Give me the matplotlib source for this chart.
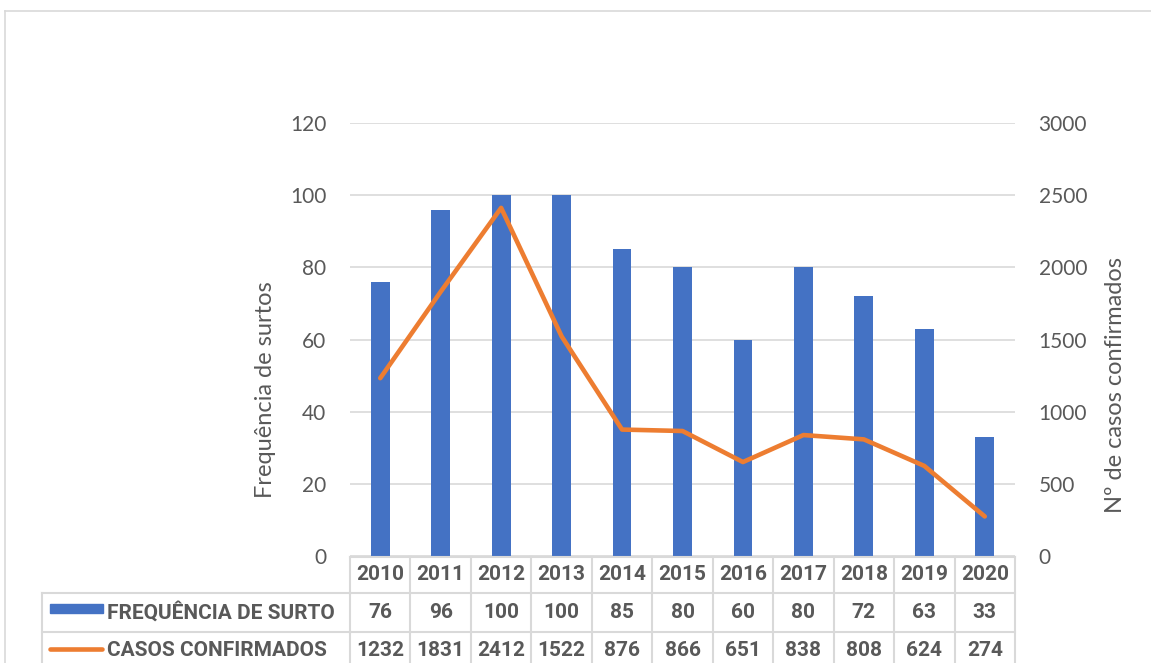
import matplotlib
matplotlib.use("Agg")
import matplotlib.pyplot as plt
from matplotlib.transforms import blended_transform_factory
from matplotlib.lines import Line2D
from matplotlib.patches import Rectangle

years = ["2010", "2011", "2012", "2013", "2014", "2015", "2016", "2017", "2018", "2019", "2020"]
surtos = [76, 96, 100, 100, 85, 80, 60, 80, 72, 63, 33]
casos = [1232, 1831, 2412, 1522, 876, 866, 651, 838, 808, 624, 274]
left_ticks = [0, 20, 40, 60, 80, 100, 120]
right_ticks = [0, 500, 1000, 1500, 2000, 2500, 3000]
row_labels = ["FREQUÊNCIA DE SURTO", "CASOS CONFIRMADOS"]
left_title = "Frequência de surtos"
right_title = "Nº de casos confirmados"

BLUE = "#4472C4"
ORANGE = "#ED7D31"
GRID = "#D9D9D9"
TXT = "#595959"
FONT = ["Lato", "DejaVu Sans"]
TFONT = ["Roboto", "DejaVu Sans"]
plt.rcParams["font.family"] = FONT

W, H = 1151, 663
fig = plt.figure(figsize=(W / 100, H / 100), dpi=100)

def fx(p):
    return p / W

def fy(p):
    return 1 - p / H

# chart border
fig.add_artist(Line2D([fx(4.5), fx(4.5)], [fy(10.5), 0], color=GRID, lw=1.2, transform=fig.transFigure))
fig.add_artist(Line2D([fx(4.5), 1], [fy(10.5), fy(10.5)], color=GRID, lw=1.2, transform=fig.transFigure))

x0, x1, ytop, ybot = 350, 1015, 123, 556
ax = fig.add_axes([fx(x0), fy(ybot), fx(x1) - fx(x0), fy(ytop) - fy(ybot)])
ax2 = ax.twinx()

xs = list(range(len(years)))
ax.bar(xs, surtos, width=0.31, color=BLUE, zorder=3)
ax2.plot(xs, casos, color=ORANGE, lw=3.3, solid_capstyle="round", solid_joinstyle="round", zorder=4)

ax.set_xlim(-0.5, len(years) - 0.5)
ax.set_ylim(0, 120)
ax2.set_ylim(0, 3000)
ax.set_yticks(left_ticks)
ax2.set_yticks(right_ticks)
ax.yaxis.grid(True, color=GRID, lw=1.2, zorder=0)
ax.set_axisbelow(True)
ax.set_xticks([])
for a in (ax, ax2):
    for s in a.spines.values():
        s.set_visible(False)
    a.tick_params(axis="y", length=0, labelsize=15, labelcolor=TXT, pad=17)
ax.set_zorder(ax2.get_zorder() - 1)
ax.patch.set_visible(False)

fig.text(fx(265), fy(390), left_title, rotation=90, ha="center", va="center", fontsize=17, color=TXT)
fig.text(fx(1115), fy(385), right_title, rotation=90, ha="center", va="center", fontsize=17, color=TXT)

# data table
tr = blended_transform_factory(ax.transData, fig.transFigure)
ftr = fig.transFigure
r0, r1, r2, r3 = 557, 593, 632, 671
n = len(years)
lc = dict(color=GRID, lw=1.5, clip_on=False)
fig.add_artist(Line2D([-0.5, n - 0.5], [fy(r0), fy(r0)], transform=tr, **lc))
for r in (r1, r2):
    fig.add_artist(Line2D([fx(42), fx(x0)], [fy(r), fy(r)], transform=ftr, **lc))
    fig.add_artist(Line2D([-0.5, n - 0.5], [fy(r), fy(r)], transform=tr, **lc))
for i in range(n + 1):
    fig.add_artist(Line2D([i - 0.5, i - 0.5], [fy(r0), 0], transform=tr, **lc))
fig.add_artist(Line2D([fx(42), fx(42)], [fy(r1), 0], transform=ftr, **lc))

tk = dict(fontsize=15, fontweight="bold", color=TXT, family=TFONT)
for i, yv in enumerate(years):
    fig.text(i, fy((r0 + r1) / 2), yv, transform=tr, ha="center", va="center", **tk)
    fig.text(i, fy((r1 + r2) / 2), str(surtos[i]), transform=tr, ha="center", va="center", **tk)
    fig.text(i, fy((r2 + r3) / 2 - 1), str(casos[i]), transform=tr, ha="center", va="center", **tk)

# legend keys
fig.add_artist(Rectangle((fx(50), fy(613)), fx(103) - fx(50), fy(604) - fy(613), color=BLUE, transform=ftr))
fig.add_artist(Line2D([fx(50), fx(102)], [fy(649), fy(649)], color=ORANGE, lw=3.3,
                      solid_capstyle="round", transform=ftr))
fig.text(fx(107), fy((r1 + r2) / 2), row_labels[0], ha="left", va="center", **tk)
fig.text(fx(107), fy((r2 + r3) / 2 - 1), row_labels[1], ha="left", va="center", **tk)

fig.savefig("out.png", dpi=100)
